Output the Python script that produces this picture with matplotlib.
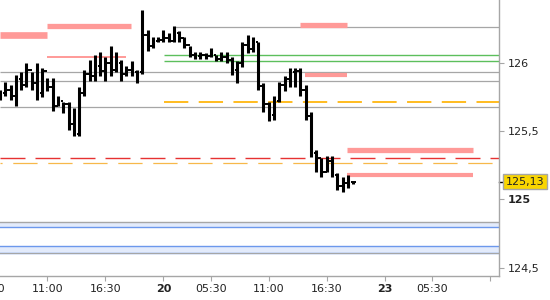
import numpy as np
import matplotlib.pyplot as plt
import matplotlib.transforms as mtransforms

plt.rcParams['lines.scale_dashes'] = False
plt.rcParams['font.family'] = 'DejaVu Sans'

# 30 minute OHLC bars (index = bar number)
bar_high = [125.80, 125.86, 125.84, 125.91, 125.93, 126.00, 125.93, 126.00, 125.96, 125.89,
            125.89, 125.76, 125.71, 125.71, 125.67, 125.82, 125.95, 126.02, 126.06, 126.08,
            126.04, 126.12, 126.08, 126.02, 125.98, 126.01, 125.95, 126.39, 126.24, 126.19,
            126.19, 126.24, 126.22, 126.27, 126.23, 126.19, 126.12, 126.08, 126.08, 126.07,
            126.11, 126.06, 126.08, 126.08, 126.04, 126.01, 126.15, 126.20, 126.19, 126.15,
            125.85, 125.71, 125.76, 125.86, 125.90, 125.96, 125.96, 125.96, 125.84, 125.64,
            125.36, 125.30, 125.32, 125.32, 125.19, 125.16, 125.18, 125.13]
bar_low = [125.73, 125.76, 125.73, 125.68, 125.80, 125.82, 125.80, 125.73, 125.75, 125.79,
           125.65, 125.68, 125.63, 125.51, 125.46, 125.46, 125.76, 125.87, 125.87, 125.90,
           125.87, 125.90, 125.93, 125.87, 125.90, 125.90, 125.85, 125.92, 126.09, 126.11,
           126.15, 126.15, 126.15, 126.15, 126.15, 126.11, 126.04, 126.03, 126.03, 126.03,
           126.04, 126.01, 126.01, 126.00, 125.91, 125.85, 125.97, 126.07, 126.08, 125.80,
           125.64, 125.57, 125.58, 125.71, 125.79, 125.82, 125.82, 125.76, 125.58, 125.31,
           125.20, 125.16, 125.20, 125.16, 125.07, 125.05, 125.08, 125.11]
bar_open = [125.76, 125.78, 125.80, 125.76, 125.88, 125.84, 125.95, 125.85, 125.78, 125.94,
            125.82, 125.68, 125.72, 125.70, 125.55, 125.48, 125.78, 125.92, 125.90, 125.98,
            125.94, 126.00, 125.95, 126.00, 125.92, 125.95, 125.93, 125.93, 126.20, 126.12,
            126.16, 126.17, 126.18, 126.16, 126.22, 126.18, 126.13, 126.06, 126.05, 126.06,
            126.05, 126.06, 126.03, 126.04, 126.02, 125.95, 126.00, 126.13, 126.10, 126.15,
            125.83, 125.70, 125.62, 125.72, 125.84, 125.88, 125.93, 125.94, 125.80, 125.61,
            125.34, 125.30, 125.20, 125.28, 125.18, 125.10, 125.12, 125.13]
bar_close = [125.78, 125.80, 125.76, 125.88, 125.84, 125.95, 125.85, 125.78, 125.94, 125.82,
             125.68, 125.72, 125.70, 125.55, 125.48, 125.78, 125.92, 125.90, 125.98, 125.94,
             126.00, 125.95, 126.00, 125.92, 125.95, 125.93, 125.88, 126.20, 126.12, 126.16,
             126.17, 126.18, 126.16, 126.22, 126.18, 126.13, 126.06, 126.05, 126.06, 126.05,
             126.06, 126.03, 126.04, 126.02, 125.95, 126.00, 126.13, 126.10, 126.15, 125.83,
             125.70, 125.62, 125.72, 125.84, 125.88, 125.93, 125.94, 125.80, 125.61, 125.34,
             125.30, 125.20, 125.28, 125.18, 125.10, 125.12, 125.14, 125.13]
last_price = 125.13

# time axis
x_ticks = [9, 20, 31, 40, 51, 62, 73, 82, 93]
x_labels = ["11:00", "16:30", "20", "05:30", "11:00", "16:30", "23", "05:30", ""]
x_bold = ["20", "23"]
y_ticks = [124.5, 125, 125.5, 126]
y_labels = ["124,5", "125", "125,5", "126"]

# levels: (price, start bar, end bar)
x_end = 94.7
gray_levels = [(126.26, 32.8, x_end), (125.93, 0, x_end), (125.867, 0, x_end), (125.674, 0, x_end)]
green_levels = [(126.057, 31.1, x_end), (126.013, 31.1, x_end)]
pink_levels = [(126.20, 0, 8.95, 4.8), (126.27, 8.95, 24.9, 3.8), (126.04, 8.95, 23.9, 1.4),
               (126.28, 56.9, 65.8, 3.8), (125.91, 57.9, 65.8, 3.0),
               (125.36, 65.8, 89.7, 3.8), (125.18, 65.8, 89.7, 3.0)]
bands = [(124.795, 124.836), (124.609, 124.656)]

fig = plt.figure(figsize=(5.5, 3), dpi=100)
ax = fig.add_axes([0, 24 / 300, 499 / 550, 276 / 300])

# support/resistance lines
for p, x0, x1 in gray_levels:
    ax.hlines(p, x0, x1, color="#a6a6a6", lw=0.9)
for p, x0, x1 in green_levels:
    ax.hlines(p, x0, x1, color="#5cbf5c", lw=1.0)
for p, x0, x1, w in pink_levels:
    ax.hlines(p, x0, x1, color="#ff9a98", lw=w, capstyle="butt")
ax.hlines(125.71, 31.1, x_end, color="#ffb60f", lw=1.3, linestyle=(0, (17.5, 7.5)))
ax.hlines(125.305, 0, x_end, color="#e63232", lw=1.0, linestyle=(0, (18, 7.2)))
ax.hlines(125.264, 0, x_end, color="#f7b84a", lw=0.9, linestyle=(16, (17.5, 7.7)))

for lo, hi in bands:
    ax.axhspan(lo, hi, color="#e3ebfb", lw=0)
    ax.axhline(lo, color="#6c98ec", lw=1.0)
ax.axhline(bands[0][1], color="#a6a6a6", lw=1.0)
ax.axhline(bands[1][1], color="#6c98ec", lw=1.0)
ax.axhline(bands[1][0] - 0.004, color="#a6a6a6", lw=0.8)

# OHLC bars
idx = np.arange(len(bar_high))
ax.vlines(idx, bar_low, bar_high, color="black", lw=2.2, capstyle="butt")
ax.hlines(bar_open, idx - 0.47, idx, color="black", lw=1.4, capstyle="butt")
ax.hlines(bar_close, idx, idx + 0.47, color="black", lw=1.4, capstyle="butt")

ax.set_xlim(0, x_end)
ax.set_ylim(124.438, 126.46)

for s in ["top", "left"]:
    ax.spines[s].set_visible(False)
for s in ["right", "bottom"]:
    ax.spines[s].set_color("#a6a6a6")
    ax.spines[s].set_linewidth(1.0)

ax.set_xticks(x_ticks)
ax.set_xticklabels(x_labels)
ax.yaxis.tick_right()
ax.set_yticks(y_ticks)
ax.set_yticklabels(y_labels)
ax.tick_params(axis="both", direction="out", length=3.6, width=0.8, color="#a6a6a6",
               labelsize=8, labelcolor="#222222", pad=2.5)
for t in ax.get_xticklabels():
    if t.get_text() in x_bold:
        t.set_fontweight("bold")
for t in ax.get_yticklabels():
    if t.get_text() == "125":
        t.set_fontweight("bold")

# partial labels cut at the edges
ax.annotate("05:30", xy=(-2, 0), xycoords=("data", "axes fraction"), xytext=(0, -6.1),
            textcoords="offset points", ha="center", va="top", fontsize=8, color="#222222",
            annotation_clip=False)
ax.annotate("126,5", xy=(1, 126.5), xycoords=("axes fraction", "data"), xytext=(6.1, 0),
            textcoords="offset points", ha="left", va="center", fontsize=8, color="#222222",
            annotation_clip=False)

# last price marker
trans = mtransforms.blended_transform_factory(ax.transAxes, ax.transData)
ax.plot([1, 1.012], [last_price, last_price], color="black", lw=1.0, transform=trans, clip_on=False)
ax.text(1.014, last_price, "125,13", transform=trans, ha="left", va="center", fontsize=8,
        color="#222222", bbox=dict(boxstyle="square,pad=0.25", fc="#f9d500", ec="#a6a6a6", lw=1.0))

fig.savefig("out.png", dpi=100)
